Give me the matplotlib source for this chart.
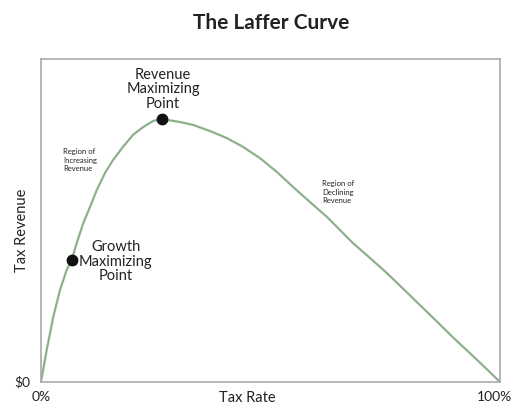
import matplotlib
matplotlib.use("Agg")
import matplotlib.pyplot as plt

# curve (tax rate %, revenue index 0-100)
tax_rate = [0, 1.24, 2.68, 4.14, 5.6, 6.69, 7.78, 9.22, 10.68, 12.14, 13.94,
            15.69, 17.86, 20.04, 22.22, 24.4, 26.36, 30.28, 33.12, 36.82,
            40.52, 44.01, 47.71, 51.42, 54.9, 58.61, 62.31, 67.97, 71.68,
            75.38, 78.87, 82.57, 86.27, 89.76, 93.46, 97.17, 100]
revenue = [0, 9.9, 20.2, 28.5, 34.7, 37.8, 43.0, 49.2, 54.2, 59.4, 64.7,
           68.7, 72.8, 76.5, 78.9, 80.8, 81.4, 80.5, 79.6, 77.7,
           75.5, 72.8, 69.3, 65.0, 60.4, 55.7, 51.1, 43.0, 38.4,
           33.7, 28.9, 23.8, 18.7, 13.8, 8.9, 3.9, 0]

points_x = [6.69, 26.36]
points_y = [37.8, 81.4]

font = "Lato"
green = "#8fb08c"
ink = "#222222"

fig = plt.figure(figsize=(5.13, 4.07), dpi=100)
ax = fig.add_axes([0.0799, 0.0614, 0.8948, 0.7936])

ax.plot(tax_rate, revenue, color=green, lw=1.6, solid_capstyle="round",
        solid_joinstyle="round", zorder=2)
ax.plot(points_x, points_y, "o", color="#111111", ms=7.5, zorder=3)

ax.set_xlim(0, 100)
ax.set_ylim(0, 100)
for s in ax.spines.values():
    s.set_color("#aaaaaa")
    s.set_linewidth(1.2)

ax.set_xticks([])
ax.set_yticks([0])
ax.set_yticklabels(["$0"], fontsize=10, family=font, color=ink)
ax.tick_params(length=0)
ax.tick_params(axis="y", pad=8)
ax.get_yticklabels()[0].set_va("center")

# x end labels and axis titles
ax.text(0.0, -0.028, "0%", transform=ax.transAxes, ha="center", va="top",
        fontsize=10, family=font, color=ink)
ax.text(1.0 + 12 / 459, -0.028, "100%", transform=ax.transAxes, ha="right",
        va="top", fontsize=10, family=font, color=ink)
ax.text(0.45, -0.028, "Tax Rate", transform=ax.transAxes, ha="center",
        va="top", fontsize=10.5, family=font, color=ink)
ax.set_ylabel("Tax Revenue", fontsize=10.5, family=font, color=ink)
ax.yaxis.set_label_coords(-0.041, 0.47)
ax.yaxis.label.set_va("center")

ax.text(26.6, 90.7, "Revenue\nMaximizing\nPoint", ha="center", va="center",
        fontsize=10.5, family=font, color=ink, linespacing=1.05)
ax.text(16.3, 37.2, "Growth\nMaximizing\nPoint", ha="center", va="center",
        fontsize=10.5, family=font, color=ink, linespacing=1.05)
ax.text(4.8, 68.7, "Region of\nIncreasing\nRevenue", ha="left", va="center",
        fontsize=5.5, family=font, color=ink, linespacing=1.2)
ax.text(61.2, 58.8, "Region of\nDeclining\nRevenue", ha="left", va="center",
        fontsize=5.5, family=font, color=ink, linespacing=1.2)

fig.text(0.528, 0.944, "The Laffer Curve", ha="center", va="center",
         fontsize=15, fontweight="bold", family=font, color=ink)

fig.savefig("out.png", dpi=100)
